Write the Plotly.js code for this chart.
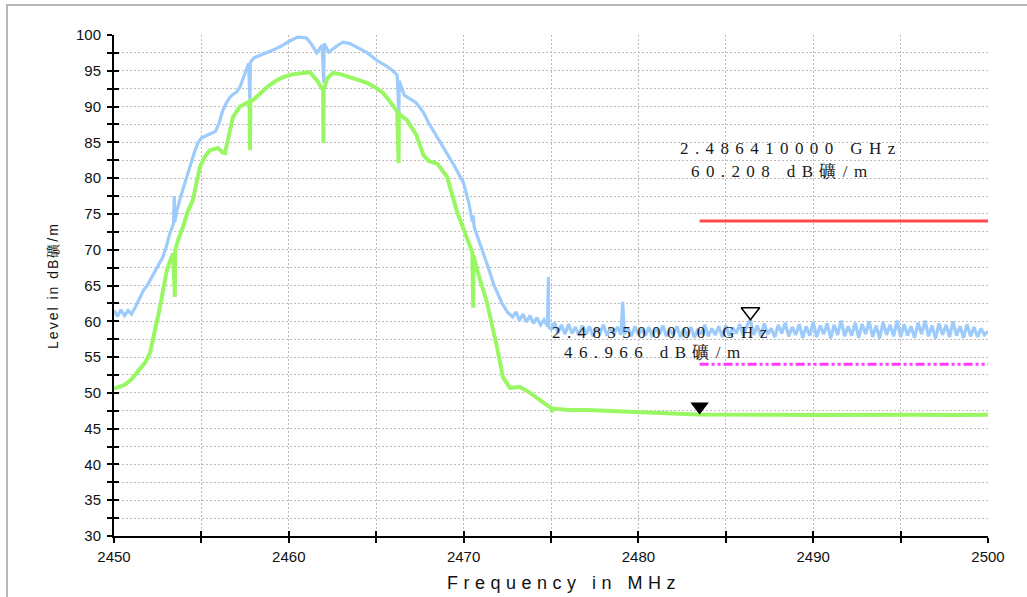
<!DOCTYPE html>
<html>
<head>
<meta charset="utf-8">
<script src="https://cdn.plot.ly/plotly-3.0.1.min.js"></script>
<style>
html,body{margin:0;padding:0;background:#ffffff;overflow:hidden;}
#frame{position:absolute;left:6px;top:4px;width:2000px;height:2000px;border:2px solid #b8b8b8;z-index:0;}
#chart{position:absolute;left:0;top:0;width:1027px;height:597px;z-index:1;}
</style>
</head>
<body>
<div id="frame"></div>
<div id="chart"></div>
<script>
// ---- data ----
const blueFreqSweep = [2450.0,2450.2,2450.4,2450.6,2450.8,2451.0,2451.2,2451.3,2451.5,2451.7,2451.9,2452.1,2452.3,2452.5,2452.7,2452.8,2453.0,2453.2,2453.4,2453.45,2453.47,2453.6,2453.8,2454.1,2454.3,2454.6,2454.8,2455.0,2455.5,2455.8,2456.0,2456.2,2456.4,2456.6,2456.8,2457.0,2457.2,2457.5,2457.7,2457.78,2457.8,2458.0,2458.4,2458.8,2459.2,2459.6,2460.0,2460.5,2461.0,2461.3,2461.6,2461.9,2462.0,2462.02,2462.3,2462.7,2463.1,2463.5,2463.9,2464.5,2465.0,2465.5,2465.9,2466.2,2466.3,2466.32,2466.6,2467.0,2467.3,2467.7,2468.0,2468.3,2468.6,2469.0,2469.5,2470.0,2470.3,2470.5,2470.55,2470.6,2470.8,2471.1,2471.4,2471.7,2472.0,2472.2,2472.5,2472.8,2473.0,2473.2,2473.4,2473.6,2473.8,2474.0,2474.2,2474.4,2474.6,2474.8,2474.85,2474.87];
const blueLevelSweep = [61.5,60.7,61.6,60.8,61.5,61.0,61.9,62.4,63.2,64.4,65.0,65.9,66.6,67.7,68.4,69.0,70.5,72.3,73.6,77.5,73.8,75.5,77.3,79.7,81.2,83.6,84.9,85.6,86.2,86.5,87.6,89.3,90.4,91.2,91.7,92.0,92.7,94.5,96.0,90.5,96.2,96.8,97.2,97.5,98.0,98.5,99.1,99.7,99.6,98.7,97.5,98.6,93.3,98.8,97.6,98.4,99.0,98.8,98.3,97.5,96.5,95.8,95.1,94.4,89.1,93.6,91.6,90.9,90.5,89.2,87.7,86.5,85.3,83.8,81.6,79.3,76.5,73.9,74.8,73.2,71.8,70.0,67.6,65.3,63.5,62.5,61.3,60.6,61.3,60.1,61.0,59.9,60.8,59.7,60.5,59.5,60.2,59.3,66.2,59.2];
const blueFreqFloor = [2475.0,2475.2,2475.4,2475.6,2475.8,2476.0,2476.2,2476.4,2476.6,2476.8,2477.0,2477.2,2477.4,2477.6,2477.8,2478.0,2478.2,2478.4,2478.6,2478.8,2479.0,2479.1,2479.2,2479.4,2479.6,2479.8,2480.0,2480.2,2480.4,2480.6,2480.8,2481.0,2481.2,2481.4,2481.6,2481.8,2482.0,2482.2,2482.4,2482.6,2482.8,2483.0,2483.2,2483.4,2483.6,2483.8,2484.0,2484.2,2484.4,2484.6,2484.8,2485.0,2485.2,2485.4,2485.6,2485.8,2486.0,2486.2,2486.41,2486.6,2486.8,2487.0,2487.2,2487.4,2487.6,2487.8,2488.0,2488.2,2488.4,2488.6,2488.8,2489.0,2489.2,2489.4,2489.6,2489.8,2490.0,2490.2,2490.4,2490.6,2490.8,2491.0,2491.2,2491.4,2491.6,2491.8,2492.0,2492.2,2492.4,2492.6,2492.8,2493.0,2493.2,2493.4,2493.6,2493.8,2494.0,2494.2,2494.4,2494.6,2494.8,2495.0,2495.2,2495.4,2495.6,2495.8,2496.0,2496.2,2496.4,2496.6,2496.8,2497.0,2497.2,2497.4,2497.6,2497.8,2498.0,2498.2,2498.4,2498.6,2498.8,2499.0,2499.2,2499.4,2499.6,2499.8,2500.0];
const blueLevelFloor = [58.9,59.8,58.4,59.5,58.2,59.6,58.3,59.2,58.0,59.4,58.2,59.3,57.9,59.1,58.3,59.5,58.0,59.0,58.2,59.2,58.1,62.7,58.2,59.1,57.9,59.3,58.1,58.9,58.0,59.2,57.8,59.1,58.2,59.4,57.9,58.8,58.1,59.3,57.8,59.0,58.0,59.2,57.7,58.9,58.2,59.5,57.9,59.0,58.1,59.3,57.8,59.4,58.0,59.1,58.3,59.6,58.0,59.3,60.208,58.1,59.4,57.9,59.7,58.2,59.0,57.8,59.5,58.3,59.8,57.9,59.2,58.1,59.6,57.7,59.3,58.0,59.9,57.8,59.4,58.2,59.7,57.6,59.5,58.1,60.1,57.9,59.3,58.0,59.8,57.7,59.6,58.2,60.0,57.8,59.4,57.6,59.9,58.1,59.5,57.9,60.1,57.8,59.6,58.0,59.3,57.7,59.8,58.2,60.1,57.9,59.4,57.6,59.7,58.1,59.5,57.8,60.0,58.0,59.3,57.7,59.6,57.9,59.2,57.8,59.0,58.1,58.6];
const greenFreq = [2450.0,2450.3,2450.6,2451.0,2451.4,2451.8,2452.06,2452.2,2452.35,2452.5,2452.63,2452.8,2453.03,2453.2,2453.38,2453.48,2453.5,2453.7,2453.95,2454.2,2454.52,2454.75,2454.92,2455.2,2455.49,2455.95,2456.2,2456.35,2456.55,2456.8,2457.2,2457.5,2457.76,2457.78,2457.8,2457.95,2458.4,2458.75,2459.2,2459.67,2460.2,2460.64,2461.2,2461.6,2461.96,2461.98,2462.0,2462.2,2462.53,2463.0,2463.5,2464.0,2464.47,2465.0,2465.39,2465.7,2465.96,2466.2,2466.28,2466.3,2466.76,2467.0,2467.3,2467.7,2468.0,2468.5,2469.05,2469.6,2470.2,2470.5,2470.55,2470.57,2470.77,2471.34,2471.91,2472.25,2472.65,2473.23,2473.8,2474.3,2474.77,2475.0,2475.05,2475.1,2476.0,2477.06,2478.0,2478.95,2480.0,2481.0,2482.0,2483.0,2483.5,2485.0,2486.5,2488.0,2490.0,2492.0,2494.0,2496.0,2498.0,2500.0];
const greenLevel = [50.6,50.8,51.1,51.9,53.0,54.3,55.6,57.0,58.8,60.5,62.0,64.5,67.2,68.4,69.5,63.4,70.0,71.6,73.2,75.2,77.0,79.7,81.6,83.0,83.9,84.2,83.6,83.5,86.0,88.5,90.0,90.4,90.7,83.9,90.8,90.9,91.9,92.7,93.5,94.1,94.5,94.6,94.8,93.7,92.3,84.9,92.4,93.9,94.7,94.5,94.1,93.8,93.3,92.6,91.9,91.0,90.0,89.3,82.1,89.0,88.1,87.2,86.0,83.2,82.4,82.0,80.2,75.5,71.4,69.6,61.9,69.2,67.2,62.6,56.4,52.2,50.7,50.8,50.0,49.2,48.3,47.9,47.3,47.8,47.6,47.6,47.5,47.3,47.2,47.1,47.1,47.0,46.966,47.0,46.9,46.95,46.9,46.95,46.9,46.95,46.9,46.95];
const limitFreq = [2483.5, 2500];
const peakLimit = [74, 74];
const avgLimit = [54, 54];
const markerFreq = [2486.41, 2483.5];
const markerLevel = [60.208, 46.966];
const markerLines1 = ["2.486410000 GHz", "2.483500000 GHz"];
const markerLines2 = ["60.208 dB礦/m", "46.966 dB礦/m"];
const xTicks = [2450, 2460, 2470, 2480, 2490, 2500];
const yTicks = [30, 35, 40, 45, 50, 55, 60, 65, 70, 75, 80, 85, 90, 95, 100];
const xTitle = "Frequency in MHz";
const yTitle = "Level in dB礦/m";

// ---- layout constants ----
const W = 1027, H = 597;
const M = {l: 114, r: 39, t: 35, b: 61};
const xRange = [2450, 2500], yRange = [30, 100];
const plotH = H - M.t - M.b, plotW = W - M.l - M.r;
const mSize = 16;
const tipOffset = (mSize / 2) * (yRange[1] - yRange[0]) / plotH; // triangle tip sits on the value

const blueF = blueFreqSweep.concat(blueFreqFloor);
const blueL = blueLevelSweep.concat(blueLevelFloor);

const traces = [
  {x: blueF, y: blueL, type: 'scatter', mode: 'lines', line: {color: '#9dcbfb', width: 3.2}, hoverinfo: 'skip'},
  {x: greenFreq, y: greenLevel, type: 'scatter', mode: 'lines', line: {color: '#99f763', width: 4}, hoverinfo: 'skip'},
  {x: limitFreq, y: peakLimit, type: 'scatter', mode: 'lines', line: {color: '#ff4a4a', width: 3}},
  {x: limitFreq, y: avgLimit, type: 'scatter', mode: 'lines', line: {color: '#ff3cff', width: 3, dash: '9px,3px,3px,3px,3px,3px'}},
  {x: [markerFreq[0]], y: [markerLevel[0] + tipOffset], type: 'scatter', mode: 'markers',
   marker: {symbol: 'triangle-down-open', size: mSize, color: '#000', line: {width: 1.5, color: '#000'}}},
  {x: [markerFreq[1]], y: [markerLevel[1] + tipOffset], type: 'scatter', mode: 'markers',
   marker: {symbol: 'triangle-down', size: mSize, color: '#000', line: {width: 0}}},
  {x: xRange, y: yRange, xaxis: 'x2', yaxis: 'y2', type: 'scatter', mode: 'markers', marker: {opacity: 0}, hoverinfo: 'skip'}
];

const gridCol = '#bcbcbc';
const gridDash = '2px,2px';
const serif = 'Liberation Serif, Times New Roman, serif';
function spaced(t, px) { return '<span style="letter-spacing:' + px + 'px">' + t + '</span>'; }

const annos = [
  {x: 2488.73, y: 84.2, text: spaced(markerLines1[0], 6.4)},
  {x: 2488.24, y: 80.86, text: spaced(markerLines2[0], 6.4)},
  {x: 2481.41, y: 58.5, text: spaced(markerLines1[1], 6.4)},
  {x: 2481.0, y: 55.57, text: spaced(markerLines2[1], 6.4)}
].map(a => Object.assign({xref: 'x', yref: 'y', showarrow: false, xanchor: 'center', yanchor: 'middle',
  font: {family: serif, size: 17, color: '#1a1a1a'}}, a));

annos.push({xref: 'paper', yref: 'paper', x: (564 - M.l) / plotW, y: -(583 - (H - M.b)) / plotH,
  xanchor: 'center', yanchor: 'middle', showarrow: false,
  text: spaced(xTitle, 5.5), font: {family: 'Liberation Sans, Arial, sans-serif', size: 18, color: '#111'}});

const layout = {
  width: W, height: H,
  margin: M,
  paper_bgcolor: 'rgba(0,0,0,0)',
  plot_bgcolor: 'rgba(0,0,0,0)',
  showlegend: false,
  font: {family: 'Liberation Sans, Arial, sans-serif', color: '#111'},
  xaxis: {
    range: xRange, tickvals: xTicks, ticktext: xTicks.map(String),
    showline: true, linecolor: '#000', linewidth: 2,
    ticks: 'outside', ticklen: 5, tickwidth: 2, tickcolor: '#000',
    showgrid: true, gridcolor: gridCol, griddash: gridDash, gridwidth: 1,
    minor: {dtick: 5, tick0: 2450, ticks: 'outside', ticklen: 5, tickwidth: 2, tickcolor: '#000', showgrid: true, gridcolor: gridCol, griddash: gridDash, gridwidth: 1},
    tickfont: {size: 15}, ticklabelstandoff: 1, zeroline: false
  },
  yaxis: {
    range: yRange, tickvals: yTicks, ticktext: yTicks.map(String),
    showline: true, linecolor: '#000', linewidth: 2,
    ticks: 'outside', ticklen: 5, tickwidth: 2, tickcolor: '#000',
    showgrid: true, gridcolor: gridCol, griddash: gridDash, gridwidth: 1,
    minor: {dtick: 2.5, tick0: 30, ticks: 'outside', ticklen: 5, tickwidth: 2, tickcolor: '#000', showgrid: true, gridcolor: gridCol, griddash: gridDash, gridwidth: 1},
    tickfont: {size: 15}, ticklabelstandoff: 3, zeroline: false,
    title: {text: spaced(yTitle, 2), font: {size: 14}, standoff: 14}
  },
  xaxis2: {overlaying: 'x', range: xRange, tickvals: xTicks, ticks: 'inside', ticklen: 5, tickwidth: 2, tickcolor: '#000',
    showticklabels: false, showgrid: false, zeroline: false, showline: false,
    minor: {dtick: 5, tick0: 2450, ticks: 'inside', ticklen: 5, tickwidth: 2, tickcolor: '#000', showgrid: false}},
  yaxis2: {overlaying: 'y', range: yRange, tickvals: yTicks, ticks: 'inside', ticklen: 5, tickwidth: 2, tickcolor: '#000',
    showticklabels: false, showgrid: false, zeroline: false, showline: false,
    minor: {dtick: 2.5, tick0: 30, ticks: 'inside', ticklen: 5, tickwidth: 2, tickcolor: '#000', showgrid: false}},
  annotations: annos
};

Plotly.newPlot('chart', traces, layout, {staticPlot: true, displayModeBar: false});
</script>
</body>
</html>
